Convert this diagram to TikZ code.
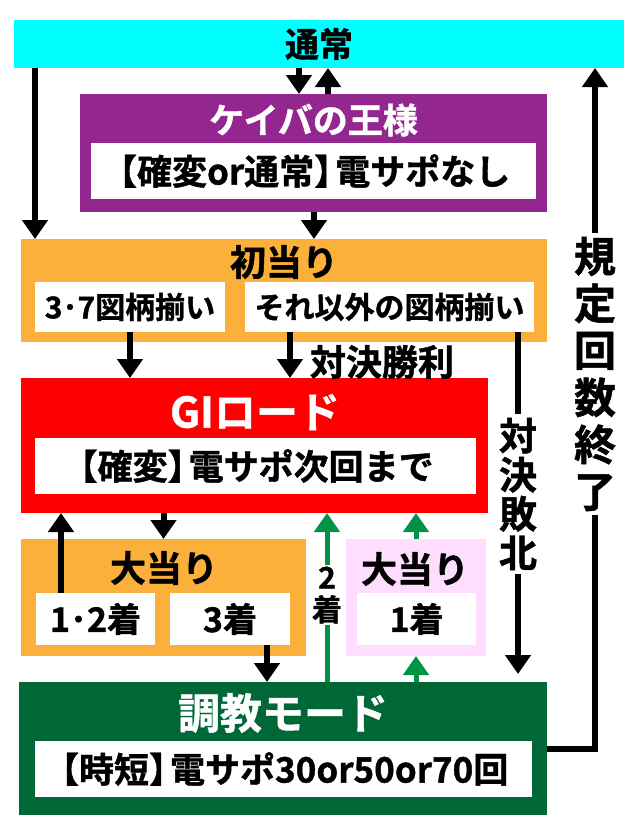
\documentclass[tikz,border=0pt]{standalone}
\usepackage{fontspec}
\setmainfont{Noto Sans CJK JP}[BoldFont={Noto Sans CJK JP Bold}, BoldFeatures={FakeBold=1.2}]
\usepackage{xcolor}
\usepackage{tikz}
\usetikzlibrary{arrows.meta, positioning}

\definecolor{cyanbar}{HTML}{00FFFF}
\definecolor{kingpurple}{HTML}{93278F}
\definecolor{hitorange}{HTML}{FBB03B}
\definecolor{roadred}{HTML}{FF0000}
\definecolor{bigpink}{HTML}{FFDDFF}
\definecolor{traingreen}{HTML}{006837}
\definecolor{arrowgreen}{HTML}{009245}
\newcommand\jpsize[2]{\fontsize{#1}{#2}\selectfont\bfseries}
\newcommand\lbk{\kern-.42em【}
\newcommand\rbk{】\kern-.4em}

\begin{document}
\begin{tikzpicture}[->,
			>={Triangle[width=25pt,length=19pt]},
			x=1pt, y=-1pt,
			line width=6pt,
			box/.style={anchor=north west, inner sep=0pt, outer sep=0pt},
			inbox/.style={box, fill=white, text=black},
			vlab/.style={fill=white, align=center, inner sep=4pt},
			go/.style={draw=arrowgreen, line width=5pt}]

			\useasboundingbox (0,0) rectangle (640,836);

			% boxes
			\node[box, fill=cyanbar, minimum width=610pt, minimum height=48pt, font=\jpsize{34}{40}] (tsujo) at (14,20) {通常};

			\node[box, fill=kingpurple, minimum width=467pt, minimum height=118pt] (keiba) at (80,94) {};
			\node[text=white, font=\jpsize{35}{40}, inner sep=0pt] (keibaT) at (313.5,120) {ケイバの王様};
			\node[inbox, minimum width=445pt, minimum height=56pt, font=\jpsize{35}{40}] (keibaS) at (91,143) {\lbk 確変or通常\rbk 電サポなし};

			\node[box, fill=hitorange, minimum width=526pt, minimum height=103pt] (hatsu) at (21,239) {};
			\node[font=\jpsize{36}{40}, inner sep=0pt] (hatsuT) at (284,262) {初当り};
			\node[inbox, minimum width=190pt, minimum height=50pt, font=\jpsize{30}{36}] (hatsuA) at (35,282) {3･7図柄揃い};
			\node[inbox, minimum width=289pt, minimum height=50pt, font=\jpsize{30}{36}] (hatsuB) at (245,282) {それ以外の図柄揃い};

			\node[box, fill=roadred, minimum width=467pt, minimum height=135pt] (gi) at (21,378) {};
			\node[text=white, font=\jpsize{42}{48}, inner sep=0pt] (giT) at (255,412) {GIロード};
			\node[inbox, minimum width=441pt, minimum height=56pt, font=\jpsize{35}{40}] (giS) at (35,438) {\lbk 確変\rbk 電サポ次回まで};

			\node[box, fill=hitorange, minimum width=285pt, minimum height=117pt] (oh) at (21,539) {};
			\node[font=\jpsize{36}{40}, inner sep=0pt] (ohT) at (164,568) {大当り};
			\node[inbox, minimum width=119pt, minimum height=52pt, font=\jpsize{34}{40}] (oh12) at (36,593) {1･2着};
			\node[inbox, minimum width=120pt, minimum height=52pt, font=\jpsize{34}{40}] (oh3) at (170,593) {3着};

			\node[box, fill=bigpink, minimum width=140pt, minimum height=117pt] (pk) at (346,539) {};
			\node[font=\jpsize{36}{40}, inner sep=0pt] (pkT) at (415,569) {大当り};
			\node[inbox, minimum width=119pt, minimum height=52pt, font=\jpsize{34}{40}] (pk1) at (357,593) {1着};

			\node[box, fill=traingreen, minimum width=528pt, minimum height=133pt] (chokyo) at (19,682) {};
			\node[text=white, font=\jpsize{42}{48}, inner sep=0pt] (chokyoT) at (283,713) {調教モード};
			\node[inbox, minimum width=497pt, minimum height=56pt, font=\jpsize{35}{40}] (chokyoS) at (35,741) {\lbk 時短\rbk 電サポ30or50or70回};

			% x of the connectors
			\coordinate (xa) at (299,0);
			\coordinate (xb) at (328,0);
			\coordinate (xc) at (35,0);
			\coordinate (xd) at (314,0);
			\coordinate (xf) at (290,0);
			\coordinate (xg) at (518,0);
			\coordinate (xh) at (61,0);
			\coordinate (xj) at (267,0);
			\coordinate (xk) at (327,0);
			\coordinate (xm) at (595,0);

			% connectors
			\draw (tsujo.south -| xa) -- (keiba.north -| xa);
			\draw (keiba.north -| xb) -- (tsujo.south -| xb);
			\draw (tsujo.south -| xc) -- (hatsu.north -| xc);
			\draw (keiba.south -| xd) -- (hatsu.north -| xd);
			\draw (hatsuA.south) -- (gi.north -| hatsuA.south);
			\draw (hatsuB.south -| xf) -- (gi.north -| xf);
			\draw[shorten >=8pt] (hatsuB.south -| xg) -- (chokyo.north -| xg);
			\draw (oh12.north -| xh) -- (gi.south -| xh);
			\draw (gi.south -| oh.north) -- (oh.north);
			\draw (oh3.south -| xj) -- (chokyo.north -| xj);
			\draw[go] (chokyo.north -| xk) -- (gi.south -| xk);
			\draw[go] (pk.north) -- (gi.south -| pk.north);
			\draw[go] (chokyo.north -| pk.south) -- (pk.south);
			\draw (chokyo.east) -- (chokyo.east -| xm) -- (tsujo.south -| xm);

			% labels
			\node[font=\jpsize{36}{40}, inner sep=0pt] (shori) at (382,362) {対決勝利};
			\node[vlab, font=\jpsize{38}{39}] (haiboku) at (518,494) {対\\決\\敗\\北};
			\node[vlab, font=\jpsize{42}{47}] (kitei) at (595,374) {規\\定\\回\\数\\終\\了};
			\node[vlab, font=\jpsize{30}{32}, inner sep=2pt] (nichaku) at (327,595) {2\\着};
		\end{tikzpicture}
\end{document}
